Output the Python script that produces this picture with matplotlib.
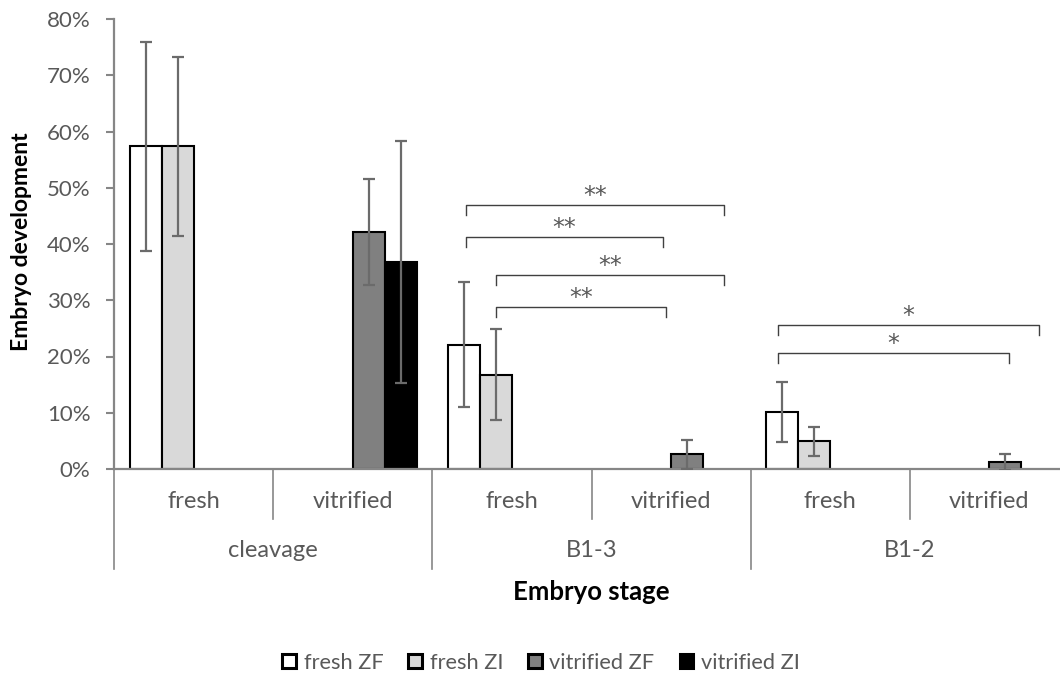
import matplotlib

matplotlib.use("Agg")
import matplotlib.pyplot as plt
import numpy as np
from matplotlib.patches import Patch

# hierarchical categories
STAGES = ["cleavage", "B1-3", "B1-2"]
CONDITIONS = ["fresh", "vitrified", "fresh", "vitrified", "fresh", "vitrified"]

SERIES = ["fresh ZF", "fresh ZI", "vitrified ZF", "vitrified ZI"]
COLORS = ["#ffffff", "#d9d9d9", "#808080", "#000000"]
NA = np.nan
fresh_zf = [57.4, NA, 22.1, NA, 10.1, NA]
fresh_zi = [57.4, NA, 16.8, NA, 4.9, NA]
vitrified_zf = [NA, 42.1, NA, 2.6, NA, 1.25]
vitrified_zi = [NA, 36.8, NA, NA, NA, NA]
fresh_zf_err = [18.6, NA, 11.1, NA, 5.3, NA]
fresh_zi_err = [15.9, NA, 8.1, NA, 2.6, NA]
vitrified_zf_err = [NA, 9.4, NA, 2.6, NA, 1.4]
vitrified_zi_err = [NA, 21.5, NA, NA, NA, NA]

VALUES = [fresh_zf, fresh_zi, vitrified_zf, vitrified_zi]
ERRORS = [fresh_zf_err, fresh_zi_err, vitrified_zf_err, vitrified_zi_err]

# significance brackets: (x_left, x_right, y, label)
BRACKETS = [
    (2.21, 3.83, 46.9, "**"),
    (2.21, 3.45, 41.2, "**"),
    (2.40, 3.83, 34.5, "**"),
    (2.40, 3.47, 28.8, "**"),
    (4.17, 5.81, 25.6, "*"),
    (4.17, 5.62, 20.6, "*"),
]

TEXT = "#595959"
AXIS = "#868686"
FONT = "Lato"

plt.rcParams.update({"font.family": FONT, "font.size": 13})

fig = plt.figure(figsize=(10.6, 6.81), dpi=100)
# axes extends slightly past the right edge, like the cropped original
ax = fig.add_axes([114 / 1060, 212 / 681, 955 / 1060, 450 / 681])

width = 0.201
gap = (1 - 4 * width) / 2
x = np.arange(len(CONDITIONS))
for j, (name, vals, errs, color) in enumerate(zip(SERIES, VALUES, ERRORS, COLORS)):
    left = x + gap + j * width
    ax.bar(left, vals, width, align="edge", color=color, edgecolor="black",
           linewidth=1.5, label=name, zorder=2)
    ax.errorbar(left + width / 2, vals, yerr=errs, fmt="none", ecolor="#6b6b6b",
                elinewidth=1.6, capsize=4.5, capthick=1.6, zorder=3)

for x0, x1, y, label in BRACKETS:
    ax.plot([x0, x0, x1, x1], [y - 1.8, y, y, y - 1.8], color="#404040", lw=1.0, zorder=3)
    ax.text((x0 + x1) / 2, y + 1.6, label, ha="center", va="center", color=TEXT,
            fontsize=17, family="DejaVu Sans")

ax.set_xlim(0, len(CONDITIONS))
ax.set_ylim(0, 80)
ax.set_yticks(np.arange(0, 81, 10))
ax.set_yticklabels([f"{v}%" for v in range(0, 81, 10)])
ax.tick_params(axis="y", colors=AXIS, labelcolor=TEXT, length=6, width=1.5,
               labelsize=16, pad=11)
ax.set_xticks([])
for side in ("top", "right"):
    ax.spines[side].set_visible(False)
for side in ("left", "bottom"):
    ax.spines[side].set_color(AXIS)
    ax.spines[side].set_linewidth(1.6)

# hierarchical category axis
trans = ax.get_xaxis_transform()
for i, cond in enumerate(CONDITIONS):
    ax.text(i + 0.5, -0.073, cond, transform=trans, ha="center", va="center",
            color=TEXT, fontsize=17)
for i in range(len(CONDITIONS) + 1):
    low = -0.222 if i % 2 == 0 else -0.111
    ax.plot([i, i], [0, low], transform=trans, color=AXIS, lw=1.2, clip_on=False)
for k, stage in enumerate(STAGES):
    ax.text(2 * k + 1, -0.182, stage, transform=trans, ha="center", va="center",
            color=TEXT, fontsize=17)

ax.text(len(CONDITIONS) / 2, -0.273, "Embryo stage", transform=trans,
        ha="center", va="center", fontsize=18.5, fontweight="bold", color="black")
fig.text(22 / 1060, 1 - 242 / 681, "Embryo development", rotation=90, ha="center",
         va="center", fontsize=16.5, fontweight="bold", color="black")

handles = [Patch(facecolor=c, edgecolor="black", linewidth=2.2) for c in COLORS]
fig.legend(handles, SERIES, loc="center", bbox_to_anchor=(541 / 1060, 1 - 663 / 681),
           ncol=4, frameon=False, handlelength=0.62, handleheight=0.62, handletextpad=0.35,
           columnspacing=1.15, labelcolor=TEXT, fontsize=15.7)

fig.savefig("out.png", dpi=100)
